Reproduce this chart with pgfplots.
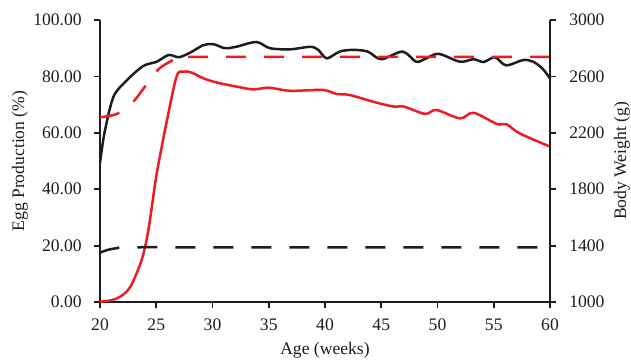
\documentclass[border=0pt]{standalone}
\usepackage{pgfplots}
\pgfplotsset{compat=1.18}
\usepackage{fontspec}
\setmainfont{Liberation Serif}
\definecolor{cred}{RGB}{237,28,36}
\definecolor{cblack}{RGB}{30,28,29}
\begin{document}
\fontsize{8.8}{10.5}\selectfont
\begin{tikzpicture}
\useasboundingbox (0,0) rectangle (315.5pt,180pt);
\pgfplotsset{
  common/.style={
    scale only axis, width=225pt, height=141pt,
    at={(50pt,29pt)}, anchor=south west,
    xmin=20, xmax=60,
    tick align=outside, major tick length=3pt,
    every tick/.style={cblack, line width=0.9pt},
    axis line style={cblack, line width=0.9pt},
    tick label style={font=\fontsize{8.8}{10.5}\selectfont, text=cblack},
    label style={font=\fontsize{8.8}{10.5}\selectfont, text=cblack},
    /pgf/number format/assume math mode=true,
  }
}
\begin{axis}[common,
  axis x line*=bottom, axis y line*=left,
  ymin=0, ymax=100,
  xtick={20,25,...,60},
  ytick={0,20,...,100},
  yticklabel style={/pgf/number format/.cd, fixed, fixed zerofill, precision=2},
  xticklabel shift=2.2pt,
  yticklabel shift=3pt,
  xlabel={Age (weeks)},
  ylabel={Egg Production (\%)},
  x label style={at={(axis description cs:0.5,-0.172)}, anchor=center},
  y label style={at={(axis description cs:-0.178,0.5)}, anchor=center, rotate=0},
]
% black solid
\addplot[cblack, line width=1.25pt, smooth, tension=0.5] coordinates {
(20,49.3) (20.4,60) (21.2,72.8) (22.4,78.7) (23.85,83.7) (25.04,85.2) (26.1,87.6) (27,86.8) (28,88.4) (29.2,91.1) (30.1,91.4) (31.1,90) (32.1,90.5) (33.9,92.2) (35.1,90) (36.9,89.6) (38.7,90.5) (39.4,89.4) (40.15,86.4) (41.3,88.8) (42.5,89.4) (43.8,88.8) (45,86.1) (46.9,88.8) (48.1,85.2) (49,86.4) (50.1,88) (52,85.2) (53.2,86.1) (54.1,85.1) (55.1,86.8) (56.1,83.9) (57.6,85.8) (58.5,85.2) (59.3,82.9) (60,79.3)
};
% red dashed
\addplot[cred, line width=1.25pt, smooth, tension=0.5, dash pattern=on 10pt off 9pt] coordinates {
(20,65.5) (21.5,66.7) (22.96,71) (25,81.7) (26.2,85.2) (27,86.5) (28,86.9) (40,86.9) (50,86.9) (60,86.9)
};
% red solid
\addplot[cred, line width=1.25pt, smooth, tension=0.5] coordinates {
(20,0.1) (21,0.6) (21.8,1.9) (22.7,5.4) (23.7,14.9) (24.3,25.5) (25,44.5) (25.9,63.4) (26.8,79.9) (27.4,81.7) (28.1,81.4) (29.2,79.3) (30.4,77.8) (31.85,76.6) (33.6,75.4) (35,76) (36.9,74.9) (39.8,75.2) (41,73.8) (42.2,73.4) (44.3,71) (46.1,69.3) (47,69.3) (48.9,66.7) (49.9,68.1) (52,65.1) (53.2,67.1) (55.3,63.1) (56.1,63.1) (57.3,59.8) (60,55.1)
};
% black dashed
\addplot[cblack, line width=1.25pt, smooth, tension=0.5, dash pattern=on 10pt off 9pt] coordinates {
(20,17.5) (20.7,18.5) (21.5,19.1) (22.5,19.4) (30,19.4) (40,19.4) (50,19.4) (60,19.4)
};
\end{axis}
\begin{axis}[common,
  axis x line=none, axis y line*=right,
  ymin=1000, ymax=3000,
  ytick={1000,1400,...,3000},
  yticklabel style={/pgf/number format/.cd, fixed, set thousands separator={}},
  yticklabel shift=3.5pt,
  ylabel={Body Weight (g)},
  y label style={at={(axis description cs:1.16,0.5)}, anchor=center, rotate=0},
]
\end{axis}
\end{tikzpicture}
\end{document}
